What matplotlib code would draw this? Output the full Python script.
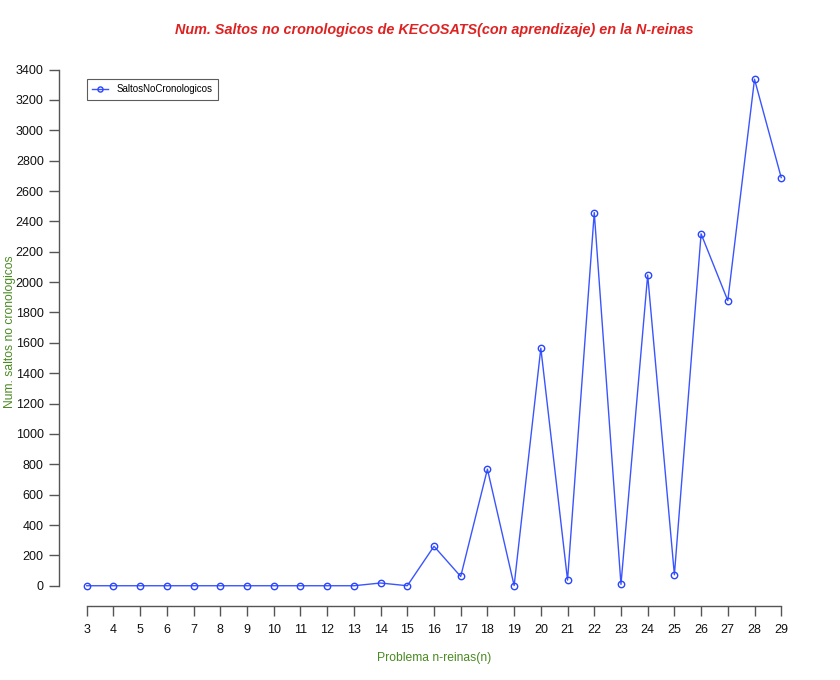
import matplotlib
matplotlib.use("Agg")
import matplotlib.pyplot as plt

n_values = list(range(3, 30))
saltos = [0, 0, 0, 0, 0, 0, 0, 0, 0, 0, 0, 18, 0, 260, 61, 768, 1,
          1565, 37, 2458, 9, 2047, 72, 2318, 1878, 3336, 2688]
y_ticks = list(range(0, 3401, 200))

plt.rcParams['font.family'] = ['Liberation Sans', 'DejaVu Sans']

fig = plt.figure(figsize=(8.4, 6.8), dpi=100)
ax = fig.add_axes([59/840, 74/680, (809-59)/840, (621-74)/680])

ax.plot(n_values, saltos, color='#3a55ff', linewidth=1.0, marker='o',
        markersize=4.6, markerfacecolor='none', markeredgecolor='#2a45ff',
        markeredgewidth=1.0, label='SaltosNoCronologicos')

ax.set_xlim(3 - 0.04*26, 29 + 0.04*26)
ymax = max(saltos)
ax.set_ylim(-0.04*ymax, ymax*1.04)

for s in ['top', 'right']:
    ax.spines[s].set_visible(False)
ax.spines['left'].set_bounds(0, 3400)
ax.spines['bottom'].set_bounds(3, 29)
for s in ['left', 'bottom']:
    ax.spines[s].set_color('#555555')
    ax.spines[s].set_linewidth(1.0)

ax.set_xticks(n_values)
ax.set_xticklabels([str(v) for v in n_values])
ax.set_yticks(y_ticks)
ax.set_yticklabels([str(v) for v in y_ticks])
ax.tick_params(axis='both', direction='out', length=7, width=1.0,
               color='#555555', labelsize=9, labelcolor='#111111')
ax.tick_params(axis='x', pad=6)
ax.tick_params(axis='y', pad=4)

fig.text(434/840, 1 - 30/680,
         'Num. Saltos no cronologicos de KECOSATS(con aprendizaje) en la N-reinas',
         ha='center', va='center', color='#dd2222', fontsize=10.4,
         fontweight='bold', fontstyle='italic')
fig.text(434/840, 1 - 658/680, 'Problema n-reinas(n)', ha='center',
         va='center', color='#4a8a22', fontsize=8.7)
fig.text(10/840, 1 - 332/680, 'Num. saltos no cronologicos', ha='center',
         va='center', rotation=90, color='#4a8a22', fontsize=8.7)

leg = ax.legend(loc='upper left', bbox_to_anchor=((87-59)/750, (601-74)/547),
                fontsize=7, frameon=True, fancybox=False, borderpad=0.55,
                handlelength=1.6, handletextpad=0.9, borderaxespad=0,
                markerscale=0.8)
leg.get_frame().set_edgecolor('#333333')
leg.get_frame().set_linewidth(0.8)

fig.savefig('out.png', dpi=100)
